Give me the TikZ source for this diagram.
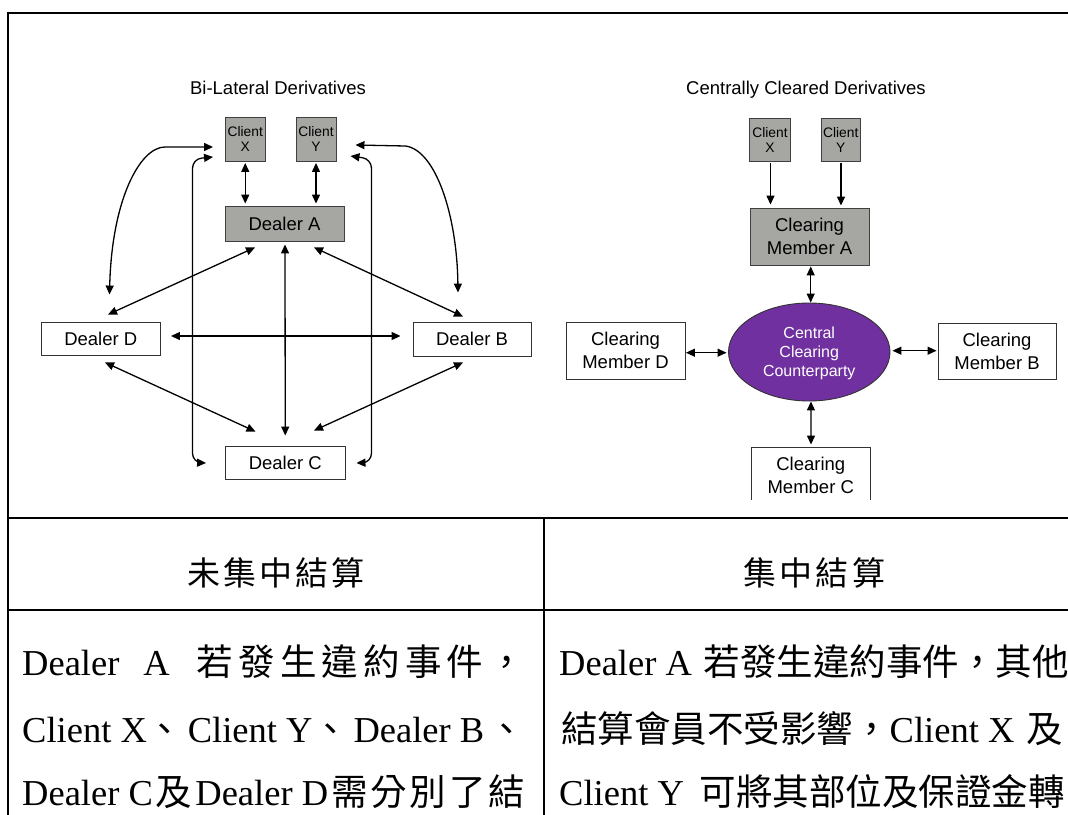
\documentclass[tikz,border=0pt]{standalone}
\usepackage{fontspec}
\setmainfont{Liberation Serif}
\newfontfamily\diafont{Liberation Sans}
\newfontfamily\cjkfont{Noto Sans CJK TC}
\usetikzlibrary{arrows.meta,shapes.geometric,calc}
\newcommand\cj[1]{{\cjkfont #1}}
\definecolor{boxgray}{HTML}{A6A7A2}
\definecolor{ccppurple}{HTML}{7030A0}
\begin{document}
\begin{tikzpicture}[x=1pt,y=-1pt,
  dia/.style={font=\diafont\fontsize{18.5}{23}\selectfont},
  grbox/.style={draw=black!75,fill=boxgray,line width=0.9pt,inner sep=0pt,align=center},
  whbox/.style={draw=black!80,fill=white,line width=0.9pt,inner sep=0pt,align=center},
  clientfont/.style={font=\diafont\fontsize{13.8}{15}\selectfont},
  dbl/.style={{Triangle[length=9pt,width=8pt]}-{Triangle[length=9pt,width=8pt]},line width=1.3pt},
  sgl/.style={-{Triangle[length=9pt,width=8pt]},line width=1.3pt},
  tbl/.style={line width=2pt},
  body/.style={inner sep=0pt,anchor=base west,font=\fontsize{36.5}{40}\selectfont},
  head/.style={inner sep=0pt,anchor=base,font=\cjkfont\fontsize{33}{36}\selectfont},
  ]
\useasboundingbox (0,0) rectangle (1068,814);
\fill[white] (0,0) rectangle (1068,814);

% ---------- table frame ----------
\draw[tbl] (1070,13) -- (7.5,13) -- (7.5,816);
\draw[tbl] (7.5,518) -- (1070,518);
\draw[tbl] (7.5,610) -- (1070,610);
\draw[tbl] (544,518) -- (544,816);

% ---------- left diagram ----------
\node[dia,anchor=base] (t1) at (278,94.6) {Bi-Lateral Derivatives};
\node[grbox,clientfont,minimum width=39.5pt,minimum height=44pt] (cx) at (245.25,139) {Client\\X};
\node[grbox,clientfont,minimum width=40pt,minimum height=44pt] (cy) at (316,139) {Client\\Y};
\node[grbox,dia,minimum width=119pt,minimum height=35pt] (da) at (284.5,223.5) {Dealer A};
\node[whbox,dia,minimum width=119.5pt,minimum height=33pt] (dd) at (100.75,338.5) {Dealer D};
\node[whbox,dia,minimum width=118pt,minimum height=34pt] (db) at (472,339) {Dealer B};
\node[whbox,dia,minimum width=119.5pt,minimum height=33pt] (dc) at (285.25,462.5) {Dealer C};

\draw[dbl] ($(cx.south)+(0,1.5)$) -- ($(cx.south|-da.north)+(0,-2)$);
\draw[dbl] ($(cy.south)+(0,1.5)$) -- ($(cy.south|-da.north)+(0,-2)$);
\draw[dbl] ($(da.south)+(-29.5,6)$) -- ($(dd.north)+(7.25,-7)$);
\draw[dbl] ($(da.south)+(0.5,3)$) -- ($(dc.north)+(0,-10)$);
\draw[dbl] ($(da.south)+(29.5,6)$) -- ($(db.north)+(-9,-5)$);
\draw[dbl] ($(dd.east)+(10,-2.5)$) -- ($(db.west)+(-12,-3)$);
\draw[dbl] ($(dd.south)+(4.25,7)$) -- ($(dc.north)+(-29.75,-14)$);
\draw[dbl] ($(db.south)+(-9,6)$) -- ($(dc.north)+(28.75,-15)$);
\draw[dbl] ($(dd.north)+(8.75,-27)$) .. controls ($(dd.north)+(11,-122)$) and ($(cx.west)+(-85,8)$) .. ($(cx.west)+(-60,8)$) -- ($(cx.west)+(-12,8)$);
\draw[dbl] ($(cy.east)+(19,6)$) -- ($(cy.east)+(69,7)$) .. controls ($(cy.east)+(99,11)$) and ($(db.north)+(-15,-107)$) .. ($(db.north)+(-14,-29)$);
\draw[dbl,rounded corners=9pt] ($(cx.west)+(-12,18)$) -- ($(cx.west)+(-32.5,20)$) -- ($(dc.west)+(-32.5,0)$) -- ($(dc.west)+(-19,0.5)$);
\draw[dbl,rounded corners=9pt] ($(cy.east)+(14,17)$) -- ($(cy.east)+(35,20)$) -- ($(dc.east)+(26,0)$) -- ($(dc.east)+(11,0.5)$);

% ---------- right diagram ----------
\node[dia,anchor=base] (t2) at (806,94.8) {Centrally Cleared Derivatives};
\node[grbox,clientfont,minimum width=41pt,minimum height=43pt] (rcx) at (770,139.5) {Client\\X};
\node[grbox,clientfont,minimum width=39.5pt,minimum height=43pt] (rcy) at (840.75,139.5) {Client\\Y};
\node[grbox,dia,minimum width=119pt,minimum height=57pt] (cma) at (809.5,236.5) {Clearing\\Member A};
\node[ellipse,draw=black!80,line width=0.9pt,fill=ccppurple,text=white,inner sep=0pt,
  minimum width=161.5pt,minimum height=98pt,align=center,text depth=0pt,
  font=\diafont\fontsize{16}{19}\selectfont] (ccp) at (809.25,352) {Central\\Clearing\\Counterparty};
\node[whbox,dia,minimum width=119pt,minimum height=57pt] (cmd) at (625.5,350.5) {Clearing\\Member D};
\node[whbox,dia,minimum width=118pt,minimum height=56pt] (cmb) at (997,351) {Clearing\\Member B};
\begin{scope}
\clip (0,0) rectangle (1068,499);
\node[whbox,dia,minimum width=118.5pt,minimum height=57pt] (cmc) at (810.75,475.5) {Clearing\\Member C};
\end{scope}

\draw[sgl] ($(rcx.south)+(0.5,1.5)$) -- ($(rcx.south|-cma.north)+(0.5,-3)$);
\draw[sgl] ($(rcy.south)+(0.25,1.5)$) -- ($(rcy.south|-cma.north)+(0.25,-2)$);
\draw[dbl] ($(cma.south)+(1.2,1)$) -- ($(cma.south|-ccp.north)+(1.2,0)$);
\draw[dbl] ($(cmd.east)+(0.5,2.2)$) -- ($(ccp.west)+(-1.5,0.7)$);
\draw[dbl] ($(ccp.east)+(2,-1.3)$) -- ($(cmb.west)+(-1,-0.3)$);
\draw[dbl] ($(ccp.south)+(1.7,0)$) -- ($(cmc.north)+(0.25,-2)$);

% ---------- table text ----------
\node[head] (h1) at (276,585) {\hbox to 178pt{未\hfill 集\hfill 中\hfill 結\hfill 算}};
\node[head] (h2) at (814,585) {\hbox to 142pt{集\hfill 中\hfill 結\hfill 算}};

\node[body] (l1) at (22,675) {\hbox to 503pt{Dealer\hspace{24pt}A\hspace{27pt}\cj{若}\hfill\cj{發}\hfill\cj{生}\hfill\cj{違}\hfill\cj{約}\hfill\cj{事}\hfill\cj{件}\hfill\cj{，}}};
\node[body] (l2) at (22,742) {\hbox to 503pt{Client X\cj{、}\hfill Client Y\cj{、}\hfill Dealer B\hfill\cj{、}}};
\node[body] (l3) at (22,805) {\hbox to 503pt{Dealer C\hspace{3pt}\cj{及}\hspace{3pt}Dealer D\hspace{3pt}\cj{需}\hfill\cj{分}\hfill\cj{別}\hfill\cj{了}\hfill\cj{結}}};

\node[body] (r1) at (559,675) {Dealer A\hspace{12pt}\cj{若發生違約事件，其他}};
\node[body] (r2) at (561,742) {\cj{結算會員不受影響，}Client X\hspace{12pt}\cj{及}};
\node[body] (r3) at (559,805) {Client Y\hspace{16pt}\cj{可將其部位及保證金轉}};
\end{tikzpicture}
\end{document}
